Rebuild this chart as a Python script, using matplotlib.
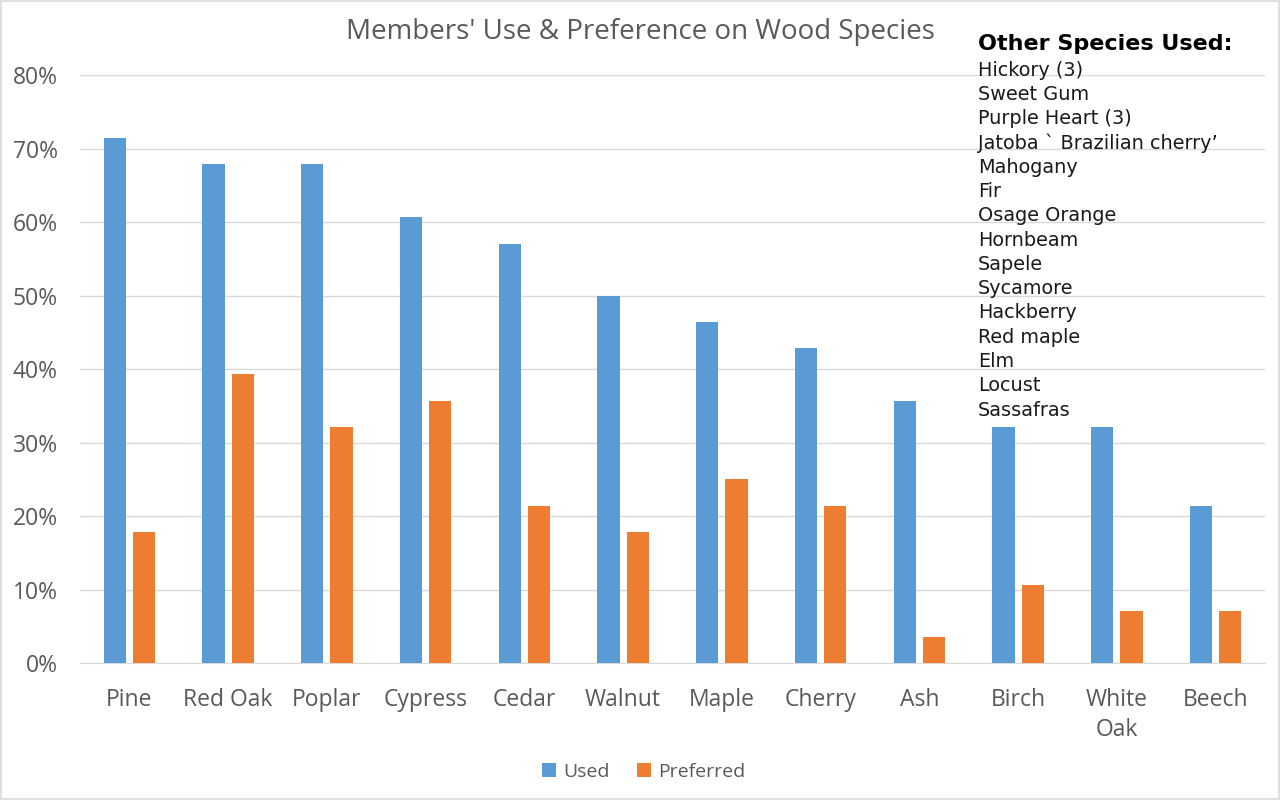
import numpy as np
import matplotlib.pyplot as plt
from matplotlib.patches import Rectangle
from matplotlib.ticker import FuncFormatter

species = ["Pine", "Red Oak", "Poplar", "Cypress", "Cedar", "Walnut",
           "Maple", "Cherry", "Ash", "Birch", "White\nOak", "Beech"]
used = [71.4, 67.9, 67.9, 60.7, 57.1, 50.0, 46.4, 42.9, 35.7, 32.1, 32.1, 21.4]
preferred = [17.9, 39.3, 32.1, 35.7, 21.4, 17.9, 25.0, 21.4, 3.6, 10.7, 7.1, 7.1]
other_species = ["Hickory (3)", "Sweet Gum", "Purple Heart (3)",
                 "Jatoba \u0060 Brazilian cherry\u2019", "Mahogany", "Fir",
                 "Osage Orange", "Hornbeam", "Sapele", "Sycamore", "Hackberry",
                 "Red maple", "Elm", "Locust", "Sassafras"]

plt.rcParams['font.family'] = ['Open Sans', 'DejaVu Sans']
gray = "#595959"

fig = plt.figure(figsize=(12.8, 8), dpi=100)
ax = fig.add_axes([80 / 1280, 0.171, 1185 / 1280, 0.735])

x = np.arange(len(species))
w = 0.225
ax.bar(x - 0.147, used, w, color="#5B9BD5", label="Used", zorder=3)
ax.bar(x + 0.147, preferred, w, color="#ED7D31", label="Preferred", zorder=3)

ax.set_xlim(-0.5, len(species) - 0.5)
ax.set_ylim(0, 80)
ax.set_yticks(range(0, 81, 10))
ax.yaxis.set_major_formatter(FuncFormatter(lambda v, p: f"{v:.0f}%"))
ax.set_xticks(x)
ax.set_xticklabels(species, linespacing=1.35)
ax.tick_params(axis='both', length=0, labelsize=16.5, colors=gray)
ax.tick_params(axis='x', pad=18)
ax.tick_params(axis='y', pad=16)
ax.grid(axis='y', color="#D9D9D9", linewidth=1, zorder=0)
for s in ['top', 'right', 'left']:
    ax.spines[s].set_visible(False)
ax.spines['bottom'].set_color("#D9D9D9")

fig.text(640 / 1280, 1 - 32 / 800, "Members' Use & Preference on Wood Species",
         ha='center', va='center', fontsize=20, color=gray)

fig.text(978 / 1280, 1 - 44 / 800, "Other Species Used:", ha='left', va='center',
         fontsize=16, fontweight='bold', family='DejaVu Sans', color='black')
for i, name in enumerate(other_species):
    fig.text(978 / 1280, 1 - (70 + i * 24.3) / 800, name, ha='left', va='center',
             fontsize=13.9, family='DejaVu Sans', color='#1a1a1a')

fig.legend(loc='center', bbox_to_anchor=(644 / 1280, 1 - 772 / 800), ncol=2,
           frameon=False, fontsize=14, handlelength=0.7, handleheight=0.7,
           handletextpad=0.4, columnspacing=1.4, labelcolor=gray)

fig.patches.append(Rectangle((0.0005, 0.001), 0.999, 0.998, transform=fig.transFigure,
                             fill=False, edgecolor="#D9D9D9", linewidth=1.2))

fig.savefig("out.png", dpi=100)
